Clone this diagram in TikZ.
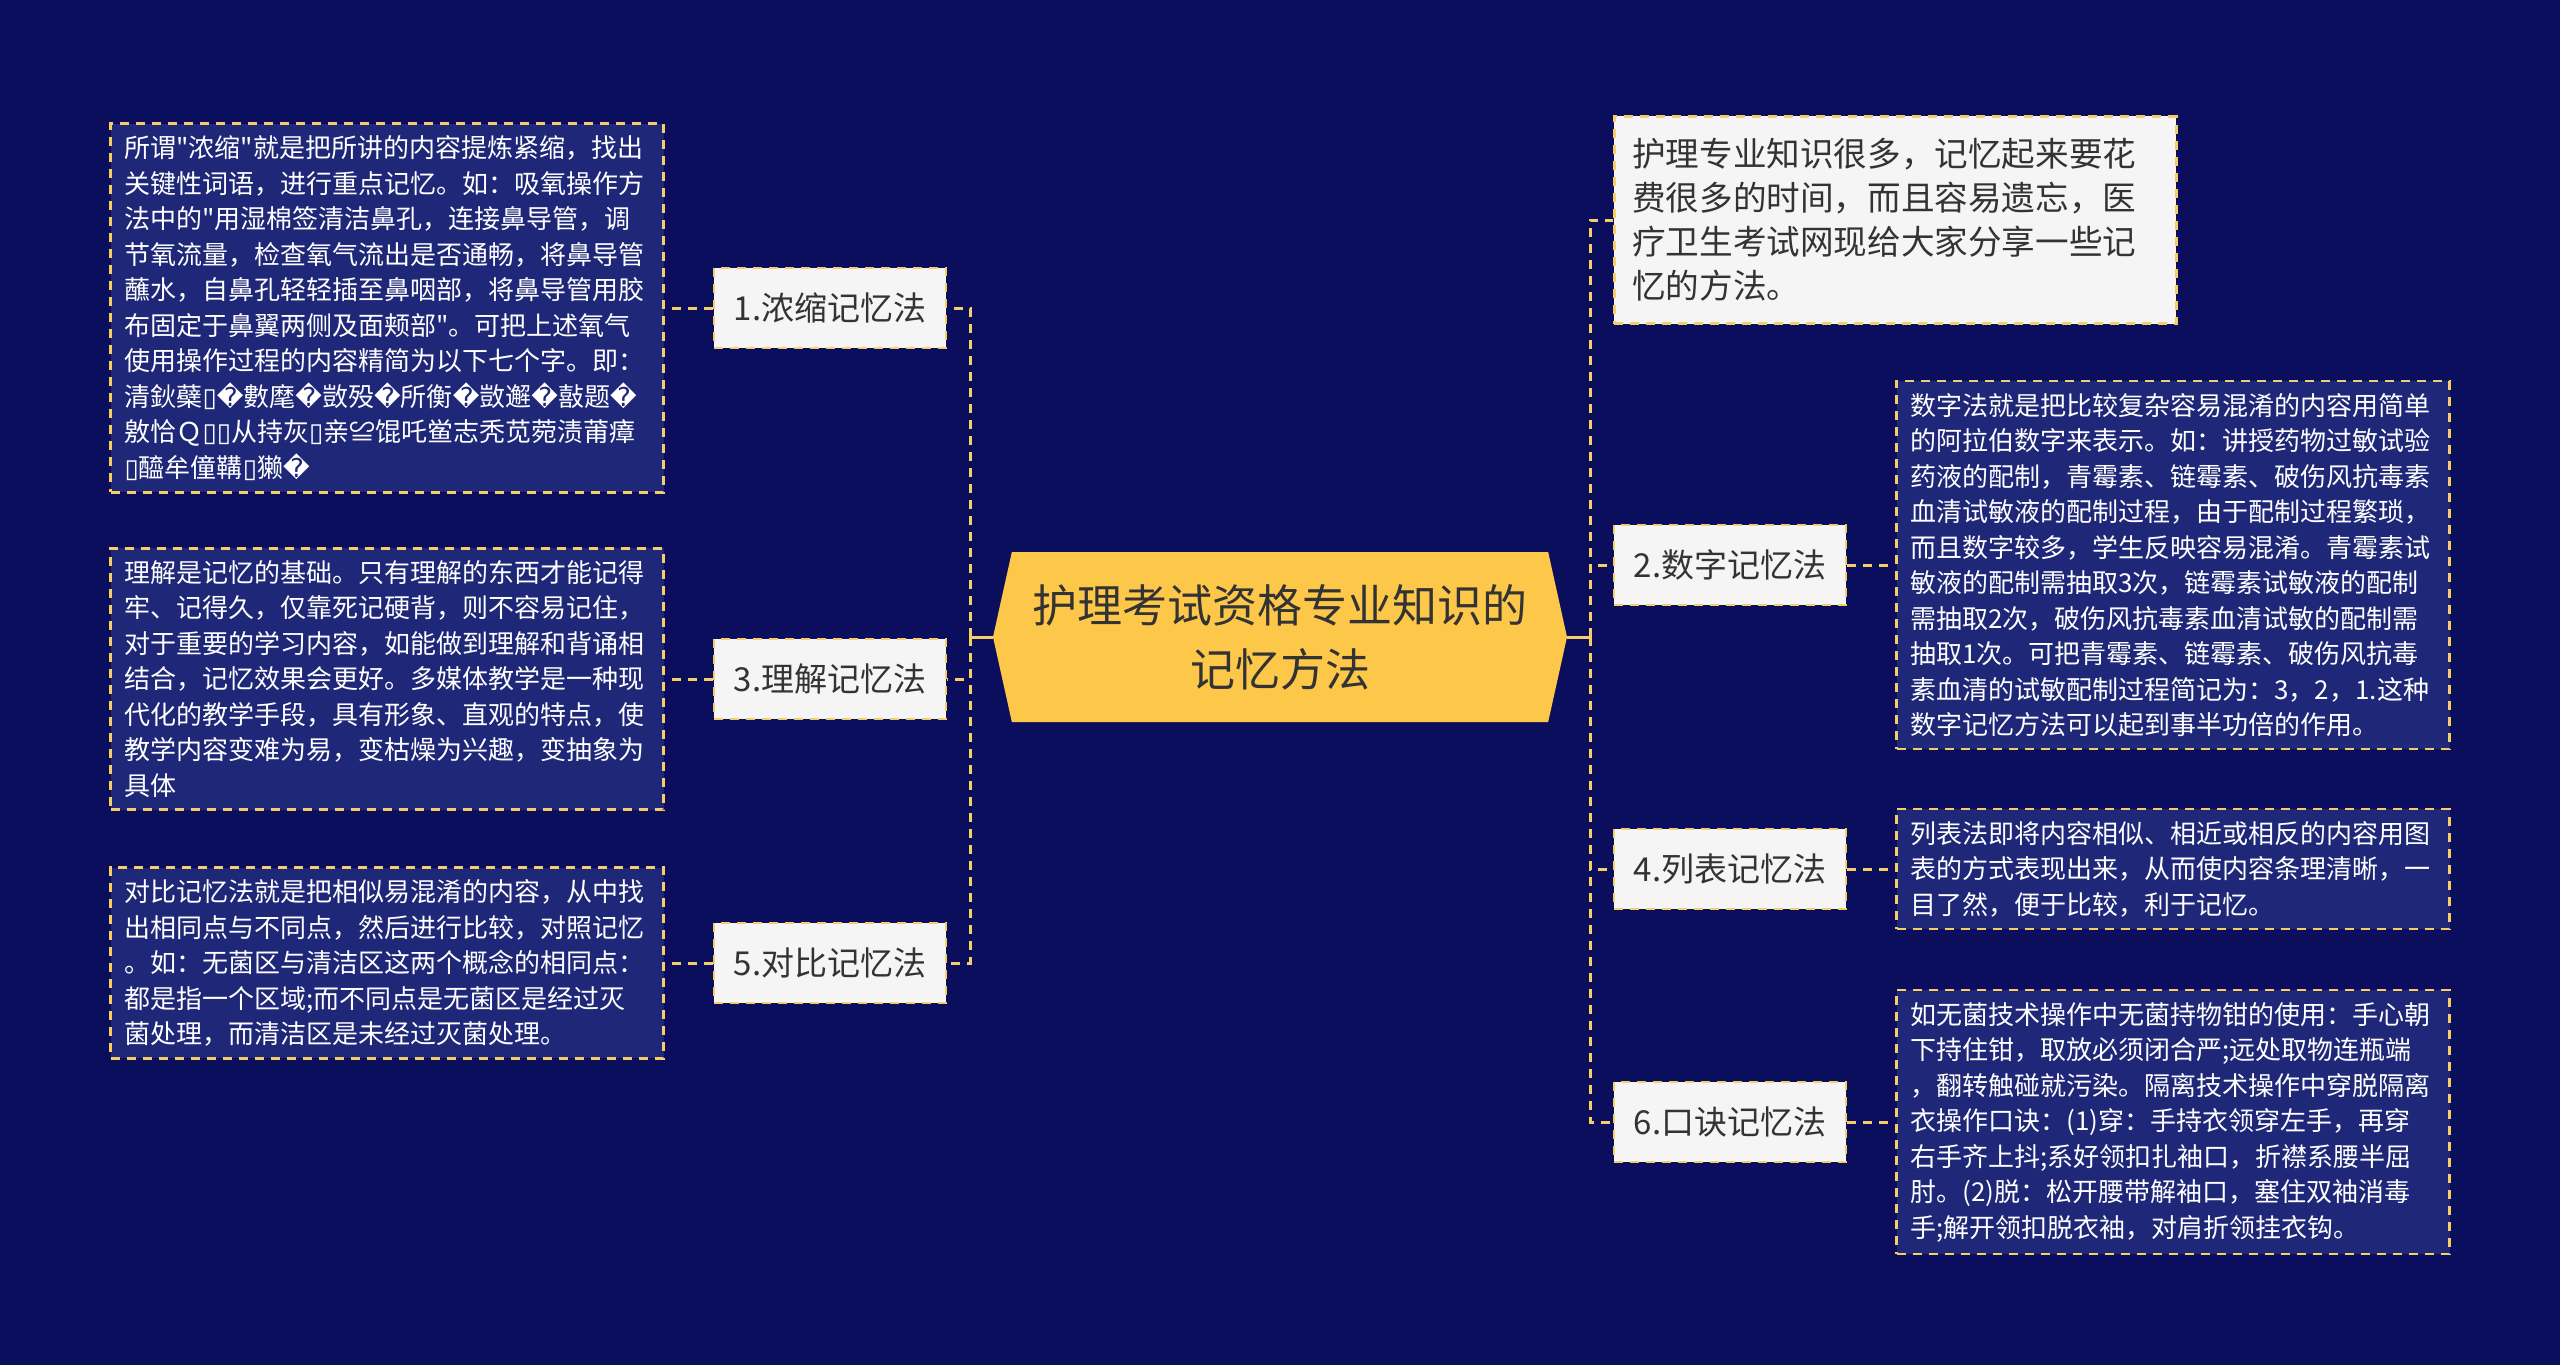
\documentclass[tikz,border=0pt]{standalone}
\usepackage{fontspec}
\newfontfamily\cjk{Noto Sans CJK SC}
\newfontfamily\dejavu{DejaVu Sans}
\usepackage{tikz}
\usetikzlibrary{shapes, arrows.meta, positioning}

\definecolor{pagebg}{HTML}{0A0E5C}
\definecolor{notefill}{HTML}{1F2878}
\definecolor{gold}{HTML}{F7CD6A}
\definecolor{hubfill}{HTML}{FDC84A}
\definecolor{labelfill}{HTML}{F5F5F5}
\definecolor{ink}{HTML}{333333}

% garbled glyphs as printed
\newcommand{\rep}{{\dejavu\symbol{"FFFD}}}
\newcommand{\tofu}{{\dejavu\symbol{"25AF}}}

\begin{document}
\begin{tikzpicture}[
        x=1pt, y=-1pt,
        hub/.style={
          signal,
          signal to=west and east,
          signal pointer angle=155,
          fill=hubfill,
          text=ink,
          align=center,
          minimum width=574pt,
          minimum height=170pt,
          inner sep=0pt,
          font=\cjk\fontsize{45}{64}\selectfont
        },
        branch/.style={
          rectangle,
          draw=gold,
          fill=labelfill,
          text=ink,
          line width=2.5pt,
          dash pattern=on 9pt off 7pt,
          minimum width=232pt,
          minimum height=80pt,
          font=\cjk\fontsize{33}{40}\selectfont
        },
        note/.style={
          rectangle,
          draw=gold,
          fill=notefill,
          text=white,
          line width=2.5pt,
          dash pattern=on 9pt off 7pt,
          text width=525pt,
          align=left,
          inner xsep=14pt,
          inner ysep=12pt,
          font=\cjk\fontsize{26}{35.5}\selectfont
        },
        intro/.style={
          note,
          fill=labelfill,
          text=ink,
          text width=526pt,
          inner xsep=18pt,
          inner ysep=22pt,
          font=\cjk\fontsize{33.6}{44}\selectfont
        },
        line/.style={draw=gold, line width=3pt, dash pattern=on 9pt off 7pt},
        stub/.style={draw=gold, line width=3pt}
    ]
    \fill[pagebg] (0,0) rectangle (2560,1365);
    \useasboundingbox (0,0) rectangle (2560,1365);

    % Define the nodes
    \node[hub] (hub) at (1280,637) {护理考试资格专业知识的\\记忆方法};
    \coordinate (jl) at (970,637);
    \coordinate (jr) at (1590,637);

    \node[branch] (concise) at (830,308) {1.浓缩记忆法};
    \node[branch] (understand) at (830,679) {3.理解记忆法};
    \node[branch] (contrast) at (830,963) {5.对比记忆法};
    \node[branch] (digits) at (1730,565) {2.数字记忆法};
    \node[branch] (table) at (1730,869) {4.列表记忆法};
    \node[branch] (rhyme) at (1730,1122) {6.口诀记忆法};

    \node[intro, anchor=west] (preface) at (1613,220) {护理专业知识很多，记忆起来要花\\费很多的时间，而且容易遗忘，医\\疗卫生考试网现给大家分享一些记\\忆的方法。};

    \node[note, left=48pt of concise] (conciseNote) {所谓"浓缩"就是把所讲的内容提炼紧缩，找出\\关键性词语，进行重点记忆。如：吸氧操作方\\法中的"用湿棉签清洁鼻孔，连接鼻导管，调\\节氧流量，检查氧气流出是否通畅，将鼻导管\\蘸水，自鼻孔轻轻插至鼻咽部，将鼻导管用胶\\布固定于鼻翼两侧及面颊部"。可把上述氧气\\使用操作过程的内容精简为以下七个字。即：\\清鈥蘗\tofu\rep 數麾\rep 敳殁\rep 所衡\rep 敳邂\rep 敼题\rep\\敫恰Ｑ\tofu\tofu 从持灰\tofu 亲≌馄吒鲎志秃苋菀渍莆瘴\\\tofu 醯牟僮鞲\tofu 獭\rep};
    \node[note, left=48pt of understand] (understandNote) {理解是记忆的基础。只有理解的东西才能记得\\牢、记得久，仅靠死记硬背，则不容易记住，\\对于重要的学习内容，如能做到理解和背诵相\\结合，记忆效果会更好。多媒体教学是一种现\\代化的教学手段，具有形象、直观的特点，使\\教学内容变难为易，变枯燥为兴趣，变抽象为\\具体};
    \node[note, left=48pt of contrast] (contrastNote) {对比记忆法就是把相似易混淆的内容，从中找\\出相同点与不同点，然后进行比较，对照记忆\\。如：无菌区与清洁区这两个概念的相同点：\\都是指一个区域;而不同点是无菌区是经过灭\\菌处理，而清洁区是未经过灭菌处理。};
    \node[note, right=48pt of digits] (digitsNote) {数字法就是把比较复杂容易混淆的内容用简单\\的阿拉伯数字来表示。如：讲授药物过敏试验\\药液的配制，青霉素、链霉素、破伤风抗毒素\\血清试敏液的配制过程，由于配制过程繁琐，\\而且数字较多，学生反映容易混淆。青霉素试\\敏液的配制需抽取3次，链霉素试敏液的配制\\需抽取2次，破伤风抗毒素血清试敏的配制需\\抽取1次。可把青霉素、链霉素、破伤风抗毒\\素血清的试敏配制过程简记为：3，2，1.这种\\数字记忆方法可以起到事半功倍的作用。};
    \node[note, right=48pt of table] (tableNote) {列表法即将内容相似、相近或相反的内容用图\\表的方式表现出来，从而使内容条理清晰，一\\目了然，便于比较，利于记忆。};
    \node[note, right=48pt of rhyme] (rhymeNote) {如无菌技术操作中无菌持物钳的使用：手心朝\\下持住钳，取放必须闭合严;远处取物连瓶端\\，翻转触碰就污染。隔离技术操作中穿脱隔离\\衣操作口诀：(1)穿：手持衣领穿左手，再穿\\右手齐上抖;系好领扣扎袖口，折襟系腰半屈\\肘。(2)脱：松开腰带解袖口，塞住双袖消毒\\手;解开领扣脱衣袖，对肩折领挂衣钩。};

    % Connect the nodes
    \draw[stub] (hub.west) -- (jl);
    \draw[stub] (hub.east) -- (jr);
    \draw[line] (jl) |- (concise.east);
    \draw[line] (jl) |- (understand.east);
    \draw[line] (jl) |- (contrast.east);
    \draw[line] (jr) |- (preface.west);
    \draw[line] (jr) |- (digits.west);
    \draw[line] (jr) |- (table.west);
    \draw[line] (jr) |- (rhyme.west);
    \draw[line] (concise) -- (conciseNote);
    \draw[line] (understand) -- (understandNote);
    \draw[line] (contrast) -- (contrastNote);
    \draw[line] (digits) -- (digitsNote);
    \draw[line] (table) -- (tableNote);
    \draw[line] (rhyme) -- (rhymeNote);

    \end{tikzpicture}
\end{document}
